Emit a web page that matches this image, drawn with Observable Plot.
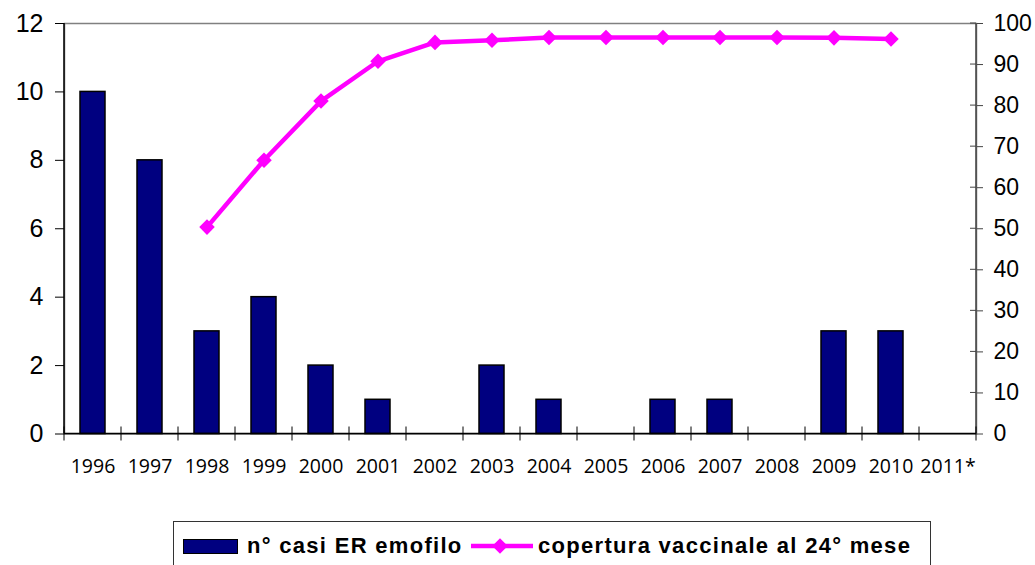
<!DOCTYPE html>
<html>
<head>
<meta charset="utf-8">
<script src="https://cdn.jsdelivr.net/npm/d3@7"></script>
<script src="https://cdn.jsdelivr.net/npm/@observablehq/plot@0.6"></script>
<style>
  html, body { margin: 0; padding: 0; background: #fff; }
  #wrap { position: relative; width: 1035px; height: 565px; overflow: hidden; }
  #legend {
    position: absolute; left: 173px; top: 521px; width: 758px; height: 60px;
    border: 1px solid #333; box-sizing: border-box;
    font-family: "Liberation Sans", Arial, sans-serif; font-weight: bold; font-size: 22px;
    letter-spacing: 1.3px; color: #000;
  }
  #legend .item { position: absolute; top: 11px; display: flex; align-items: center; white-space: nowrap; }
  #legend .sw-bar { width: 55px; height: 15px; background: #000080; border: 1.5px solid #000; box-sizing: border-box; margin-right: 9px; }
  #legend svg { margin-right: 4px; }
</style>
</head>
<body>
<div id="wrap">
  <div id="chart"></div>
  <div id="legend"></div>
</div>
<script>
const years = ["1996","1997","1998","1999","2000","2001","2002","2003","2004","2005","2006","2007","2008","2009","2010","2011*"];
const cases = [10, 8, 3, 4, 2, 1, 0, 2, 1, 0, 1, 1, 0, 3, 3, 0];
const coverage = [null, null, 50.4, 66.7, 81.1, 90.8, 95.4, 95.9, 96.6, 96.6, 96.6, 96.6, 96.6, 96.5, 96.2, null];
const leftTicks = [0, 2, 4, 6, 8, 10, 12];
const rightTicks = [0, 10, 20, 30, 40, 50, 60, 70, 80, 90, 100];
const seriesNames = ["n° casi ER emofilo", "copertura vaccinale al 24° mese"];

const leftMax = 12, rightMax = 100;
const toLeft = v => v * leftMax / rightMax;

const barData = years.map((y, i) => ({year: y, cases: cases[i]}));
const lineData = years.map((y, i) => ({year: y, cov: coverage[i] == null ? null : toLeft(coverage[i])}));

const chart = Plot.plot({
  width: 1035,
  height: 500,
  marginLeft: 64,
  marginRight: 59,
  marginTop: 23,
  marginBottom: 66.5,
  style: {background: "#fff", color: "#000"},
  x: {type: "band", domain: years, paddingInner: 0.56, paddingOuter: 0.28},
  y: {domain: [0, leftMax]},
  marks: [
    Plot.frame({stroke: "#808080", strokeWidth: 1.5}),
    Plot.barY(barData, {x: "year", y: "cases", fill: "#000080", stroke: "#000", strokeWidth: 1.5}),
    Plot.line(lineData, {x: "year", y: "cov", stroke: "#ff00ff", strokeWidth: 4.5}),
    Plot.dot(lineData.filter(d => d.cov != null), {x: "year", y: "cov", symbol: "diamond2", r: 7, fill: "#ff00ff", stroke: "none"}),
    Plot.axisY({anchor: "left", ticks: leftTicks, tickSize: 9, tickPadding: 12, fontSize: 25,
      fontFamily: "Liberation Sans, Arial, sans-serif", label: null, stroke: "#000"}),
    Plot.axisY({anchor: "right", ticks: rightTicks.map(toLeft), tickFormat: v => String(Math.round(v * rightMax / leftMax)),
      tickSize: 6, tickPadding: 11, fontSize: 23, fontFamily: "Liberation Sans, Arial, sans-serif", label: null, stroke: "#444"}),
    Plot.axisX({anchor: "bottom", tickSize: 0, tickPadding: 25, fontSize: 19.5, fontFamily: "Open Sans, sans-serif", label: null})
  ]
});

document.getElementById("chart").appendChild(chart);

// Axis lines and boundary ticks drawn from the plot's own scales
const xs = chart.scale("x");
const ys = chart.scale("y");
const svg = d3.select(chart);
const y0 = ys.apply(0), yTop = ys.apply(leftMax);
const xLeft = xs.range[0], xRight = xs.range[1];
const g = svg.append("g");
g.append("line").attr("x1", xLeft).attr("x2", xLeft).attr("y1", yTop).attr("y2", y0).attr("stroke", "#000").attr("stroke-width", 1.5);
g.append("line").attr("x1", xRight).attr("x2", xRight).attr("y1", yTop).attr("y2", y0).attr("stroke", "#444").attr("stroke-width", 1.5);
rightTicks.forEach(t => {
  const yy = ys.apply(toLeft(t));
  g.append("line").attr("x1", xRight - 6).attr("x2", xRight).attr("y1", yy).attr("y2", yy).attr("stroke", "#444");
});
g.append("line").attr("x1", xLeft).attr("x2", xRight).attr("y1", y0).attr("y2", y0).attr("stroke", "#000").attr("stroke-width", 1.5);
const step = xs.step;
const bounds = years.map(y => xs.apply(y) - (step - xs.bandwidth) / 2).concat([xRight]);
bounds.forEach(bx => {
  g.append("line").attr("x1", bx).attr("x2", bx).attr("y1", y0 - 7).attr("y2", y0 + 7).attr("stroke", "#000");
});

// Legend
const legend = d3.select("#legend");
const it1 = legend.append("div").attr("class", "item").style("left", "9px");
it1.append("div").attr("class", "sw-bar");
it1.append("span").text(seriesNames[0]);
const it2 = legend.append("div").attr("class", "item").style("left", "296px");
const s = it2.append("svg").attr("width", 64).attr("height", 20);
s.append("line").attr("x1", 1).attr("x2", 63).attr("y1", 10).attr("y2", 10).attr("stroke", "#ff00ff").attr("stroke-width", 4.5);
s.append("path").attr("d", d3.symbol(d3.symbolDiamond2, Math.PI * 49)()).attr("transform", "translate(30,10)").attr("fill", "#ff00ff");
it2.append("span").text(seriesNames[1]);
</script>
</body>
</html>
